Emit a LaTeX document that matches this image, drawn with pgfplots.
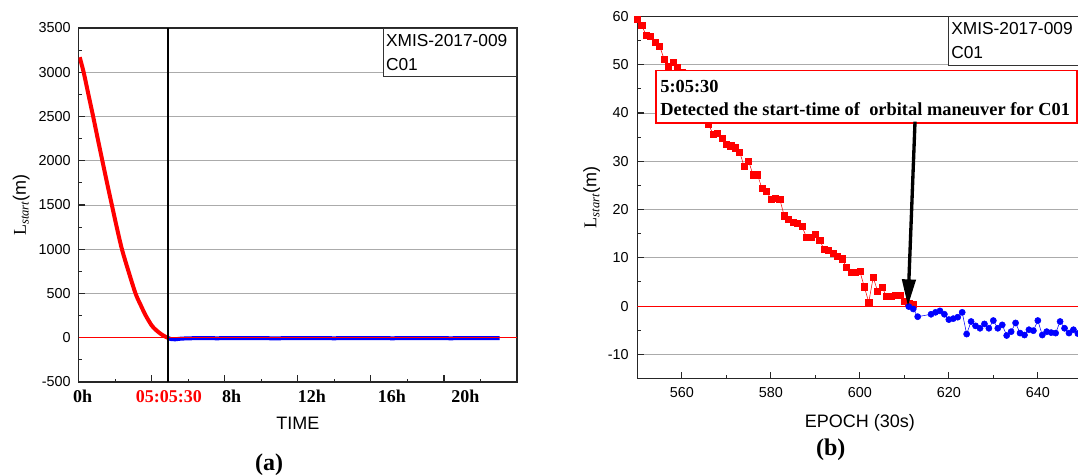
\documentclass[border=0pt]{standalone}
\usepackage{fontspec}
\setmainfont{Liberation Sans}
\newfontfamily\tnr{Liberation Serif}
\usepackage{pgfplots}
\pgfplotsset{compat=1.18}
\usetikzlibrary{arrows.meta}

\pgfplotsset{
  panel/.style={
    scale only axis, anchor=south west,
    axis line style={line width=0.9pt, black!85},
    tick style={line width=0.8pt, black!85},
    major tick length=5pt, minor tick length=2.6pt,
    tick pos=left,
    ymajorgrids, grid style={black!33, line width=0.6pt},
    /pgf/number format/assume math mode=true,
    /pgf/number format/1000 sep={},
    scaled ticks=false,
    tick label style={font=\fontsize{10.8}{12}\selectfont},
    label style={font=\fontsize{13.5}{15}\selectfont},
  },
}
\tikzset{
  tag/.style={draw=black!80, line width=0.6pt, fill=white, anchor=north east,
    align=left, inner xsep=2pt, inner ysep=4.5pt, text width=96pt,
    font=\fontsize{13}{18}\selectfont},
  note/.style={anchor=west, inner sep=0pt, font=\tnr\bfseries\fontsize{13.8}{15}\selectfont},
}

\begin{document}
\begin{tikzpicture}
\path[use as bounding box] (0,0) rectangle (808.5pt,356.25pt);

% (a) whole day
\begin{axis}[panel,
  at={(58.9pt,69.75pt)}, width=328.9pt, height=265.5pt,
  xmin=0, xmax=3000, ymin=-500, ymax=3500,
  xtick={0,500,...,3000}, xticklabels={}, minor x tick num=1,
  ytick={-500,0,...,3500}, minor y tick num=1,
  yticklabel style={xshift=-2.4pt},
  extra x ticks={28,618,1047,1597,2144,2647},
  extra x tick labels={0h,\textcolor{red}{05:05:30},8h,12h,16h,20h},
  extra x tick style={grid=none, major tick length=0pt,
    xticklabel style={font=\tnr\bfseries\fontsize{13.5}{15}\selectfont, yshift=-2.5pt}},
  xlabel={TIME},
  xlabel style={at={(axis description cs:0.5,0)}, anchor=center, yshift=-30.75pt},
  ylabel={{\tnr L}\textsubscript{\tnr\itshape start}(m)},
  ylabel style={at={(axis description cs:0,0.5)}, anchor=center, yshift=43pt},
]
\addplot[red, line width=3pt, smooth] coordinates {
  (8,3170) (35,3000) (70,2730) (100,2500) (130,2260) (163,2000) (195,1750)
  (228,1500) (262,1245) (297,1000) (340,760) (390,500) (425,370) (460,250)
  (500,140) (525,95) (550,59.5) (575,30) (600,7) (611,0)
};
\addplot[blue, line width=3pt] coordinates {
  (611,-2) (630,-14) (660,-18) (700,-10) (760,-6) (850,-4) (950,-6) (1050,-3)
  (1150,-5) (1250,-4) (1350,-7) (1450,-3) (1550,-5) (1650,-4) (1750,-6)
  (1850,-3) (1950,-5) (2050,-4) (2150,-6) (2250,-3) (2350,-5) (2450,-4)
  (2550,-6) (2650,-3) (2750,-5) (2880,-4)
};
\draw[red, line width=0.75pt] (axis cs:0,0) -- (axis cs:3000,0);
\draw[black, line width=1.2pt] (axis cs:611,-500) -- (axis cs:611,3500);
\node[tag] at (rel axis cs:1,1) {XMIS-2017-009\\C01};
\end{axis}

% (b) zoom around the detected epoch
\begin{axis}[panel,
  at={(478pt,72.4pt)}, width=333.75pt, height=271.5pt,
  xmin=550, xmax=650, ymin=-15, ymax=60,
  xtick={560,580,...,640}, minor x tick num=1,
  ytick={-10,0,...,60}, minor y tick num=1,
  xticklabel style={yshift=-3.5pt},
  yticklabel style={xshift=-3pt},
  xlabel={EPOCH (30s)},
  xlabel style={at={(axis description cs:0.5,0)}, anchor=center, yshift=-33.2pt},
  ylabel={{\tnr L}\textsubscript{\tnr\itshape start}(m)},
  ylabel style={at={(axis description cs:0,0.5)}, anchor=center, yshift=34.2pt},
]
\draw[red, line width=0.75pt] (axis cs:550,0) -- (axis cs:650,0);
\addplot[red, line width=0.4pt, mark=square*, mark size=2.3pt] coordinates {
  (550,59.5) (551,58.1) (552,56.1) (553,55.9) (554,54.6) (555,53.9) (556,51.2)
  (557,49.7) (558,50.6) (559,49.5) (560,48.5) (561,46.8) (562,45.0) (563,43.2)
  (564,41.5) (565,39.6) (566,37.7) (567,35.6) (568,35.8) (569,34.7) (570,33.6)
  (571,33.2) (572,32.8) (573,31.9) (574,28.9) (575,30.0) (576,27.2) (577,27.2)
  (578,24.4) (579,23.8) (580,22.2) (581,22.3) (582,22.2) (583,18.7) (584,17.9)
  (585,17.3) (586,17.1) (587,16.5) (588,14.3) (589,14.3) (590,14.8) (591,13.6)
  (592,11.7) (593,11.5) (594,10.9) (595,10.4) (596,9.8) (597,8.1) (598,7.0)
  (599,7.0) (600,7.2) (601,4.0) (602,0.8) (603,5.9) (604,3.1) (605,3.9)
  (606,2.0) (607,2.0) (608,2.2) (609,2.3) (610,1.0) (611,0.5) (612,0.4)
};
\addplot[blue, line width=0.4pt, mark=*, mark size=2.3pt] coordinates {
  (611,-0.1) (612,-0.6) (613,-2.2) (616,-1.7) (617,-1.3) (618,-1.0) (619,-1.7)
  (620,-2.8) (621,-2.6) (622,-2.3) (623,-1.3) (624,-5.8) (625,-3.2) (626,-4.1)
  (627,-4.6) (628,-3.7) (629,-4.6) (630,-3.0) (631,-4.6) (632,-3.9) (633,-6.1)
  (634,-5.3) (635,-3.5) (636,-5.6) (637,-6.0) (638,-4.9) (639,-5.1) (640,-3.0)
  (641,-6.0) (642,-5.3) (643,-5.5) (644,-5.6) (645,-3.2) (646,-4.6) (647,-5.6)
  (648,-4.9) (649,-5.7) (650,-5.0)
};
\coordinate (boxA) at (axis cs:554.2,48.8);
\coordinate (boxB) at (axis cs:648.8,38.0);
\coordinate (line1) at (axis cs:555.1,45.4);
\coordinate (line2) at (axis cs:555.1,40.7);
\coordinate (arrA) at (axis cs:612.4,38.2);
\coordinate (arrB) at (axis cs:610.8,0);
\coordinate (tagB) at (rel axis cs:1,1);
\end{axis}

% annotation of panel (b), drawn over the markers
\draw[red, line width=1.3pt, fill=white] (boxA) rectangle (boxB);
\node[note] at (line1) {5:05:30};
\node[note] at (line2) {Detected the start-time of\ \ orbital maneuver for C01};
\draw[black, line width=2.5pt, -{Triangle[length=20pt, width=10pt]}] (arrA) -- (arrB);
\node[tag] at (tagB) {XMIS-2017-009\\C01};

\node[font=\tnr\bfseries\fontsize{18}{20}\selectfont] at (201.75pt,7.5pt) {(a)};
\node[font=\tnr\bfseries\fontsize{18}{20}\selectfont] at (623pt,18.75pt) {(b)};
\end{tikzpicture}
\end{document}
